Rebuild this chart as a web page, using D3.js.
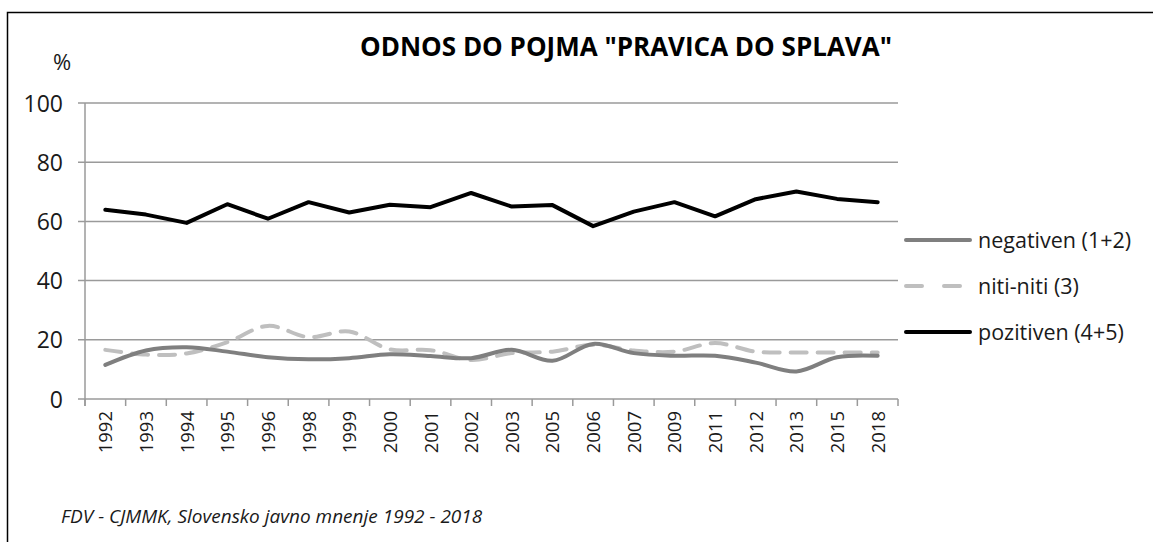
<!DOCTYPE html>
<html>
<head>
<meta charset="utf-8">
<script src="https://cdn.jsdelivr.net/npm/d3@7"></script>
<style>
  body { margin: 0; background: #fff; }
  svg { display: block; font-family: "Open Sans", sans-serif; }
</style>
</head>
<body>
<svg id="chart" width="1153" height="542"></svg>
<script>
var years = ["1992","1993","1994","1995","1996","1998","1999","2000","2001","2002",
             "2003","2005","2006","2007","2009","2011","2012","2013","2015","2018"];

var negativen = [11.5,16.4,17.5,16.0,14.1,13.4,13.8,15.1,14.5,13.8,
                 16.6,12.9,18.6,15.5,14.6,14.6,12.3,9.3,14.1,14.6];
var nitiNiti = [16.6,15.0,15.4,19.2,24.7,20.9,22.8,16.8,16.5,13.2,
                15.5,16.0,18.3,16.4,16.0,18.9,16.0,15.7,15.7,15.7];
var pozitiven = [63.9,62.3,59.5,65.8,60.9,66.5,63.0,65.6,64.8,69.6,
                 65.0,65.5,58.4,63.3,66.5,61.7,67.5,70.1,67.6,66.5];

var yTicks = [0, 20, 40, 60, 80, 100];

var seriesNames = ["negativen (1+2)", "niti-niti (3)", "pozitiven (4+5)"];

var svg = d3.select("#chart");

// frame (only top and left edge fall inside the picture)
svg.append("rect")
    .attr("x", 7.5).attr("y", 12.5)
    .attr("width", 1200).attr("height", 600)
    .attr("fill", "none")
    .attr("stroke", "#000")
    .attr("stroke-width", 1.5);

var x = d3.scaleBand()
    .domain(years)
    .range([85, 898]);

var y = d3.scaleLinear()
    .domain([0, 100])
    .range([399, 103]);

// gridlines
svg.append("g")
  .selectAll("line")
  .data(yTicks)
  .enter().append("line")
    .attr("x1", 78)
    .attr("x2", 898)
    .attr("y1", d => y(d))
    .attr("y2", d => y(d))
    .attr("stroke", "#9a9a9a")
    .attr("stroke-width", 1.5);

// y axis line
svg.append("line")
    .attr("x1", 85).attr("x2", 85)
    .attr("y1", y(100)).attr("y2", y(0) + 7)
    .attr("stroke", "#9a9a9a")
    .attr("stroke-width", 1.5);

// y labels
svg.append("g")
  .selectAll("text")
  .data(yTicks)
  .enter().append("text")
    .attr("x", 63)
    .attr("y", d => y(d) + 8.5)
    .attr("text-anchor", "end")
    .attr("font-size", 23)
    .attr("fill", "#1a1a1a")
    .text(d => d);

svg.append("text")
    .attr("x", 62)
    .attr("y", 70)
    .attr("text-anchor", "middle")
    .attr("font-size", 22)
    .attr("fill", "#1a1a1a")
    .text("%");

// x ticks at band edges
var edges = years.map(d => x(d)).concat([x.range()[1]]);
svg.append("g")
  .selectAll("line")
  .data(edges)
  .enter().append("line")
    .attr("x1", d => d).attr("x2", d => d)
    .attr("y1", y(0)).attr("y2", y(0) + 7)
    .attr("stroke", "#9a9a9a")
    .attr("stroke-width", 1.5);

// x labels
svg.append("g")
  .selectAll("text")
  .data(years)
  .enter().append("text")
    .attr("transform", d => "translate(" + (x(d) + x.bandwidth() / 2 + 7) + "," + 411 + ") rotate(-90)")
    .attr("text-anchor", "end")
    .attr("font-size", 18.5)
    .attr("fill", "#1a1a1a")
    .text(d => d);

// lines
var cx = (d, i) => x(years[i]) + x.bandwidth() / 2;

var smooth = d3.line()
    .x(cx)
    .y(d => y(d))
    .curve(d3.curveCatmullRom.alpha(0.5));

var straight = d3.line()
    .x(cx)
    .y(d => y(d));

svg.append("path")
    .attr("d", smooth(nitiNiti))
    .attr("fill", "none")
    .attr("stroke", "#bfbfbf")
    .attr("stroke-width", 4)
    .attr("stroke-dasharray", "16,11")
    .attr("stroke-linecap", "round");

svg.append("path")
    .attr("d", smooth(negativen))
    .attr("fill", "none")
    .attr("stroke", "#7f7f7f")
    .attr("stroke-width", 4)
    .attr("stroke-linejoin", "round")
    .attr("stroke-linecap", "round");

svg.append("path")
    .attr("d", straight(pozitiven))
    .attr("fill", "none")
    .attr("stroke", "#000")
    .attr("stroke-width", 4)
    .attr("stroke-linejoin", "round")
    .attr("stroke-linecap", "round");

// legend
var legendColors = ["#7f7f7f", "#bfbfbf", "#000"];
var legendDash = [null, "16,22", null];
var legend = svg.append("g")
  .selectAll("g")
  .data(seriesNames)
  .enter().append("g")
    .attr("transform", (d, i) => "translate(0," + (240 + i * 46) + ")");

legend.append("line")
    .attr("x1", 906).attr("x2", 970)
    .attr("stroke", (d, i) => legendColors[i])
    .attr("stroke-width", 4)
    .attr("stroke-linecap", "round")
    .attr("stroke-dasharray", (d, i) => legendDash[i]);

legend.append("text")
    .attr("x", 978)
    .attr("y", 7.5)
    .attr("font-size", 21.5)
    .attr("fill", "#1a1a1a")
    .text(d => d);

// title
svg.append("text")
    .attr("x", 626)
    .attr("y", 56)
    .attr("text-anchor", "middle")
    .attr("font-size", 26)
    .attr("font-weight", "bold")
    .attr("fill", "#000")
    .text("ODNOS DO POJMA \"PRAVICA DO SPLAVA\"");

// source
svg.append("text")
    .attr("x", 61)
    .attr("y", 523)
    .attr("font-size", 19)
    .attr("font-style", "italic")
    .attr("fill", "#1a1a1a")
    .text("FDV - CJMMK, Slovensko javno mnenje 1992 - 2018");
</script>
</body>
</html>
